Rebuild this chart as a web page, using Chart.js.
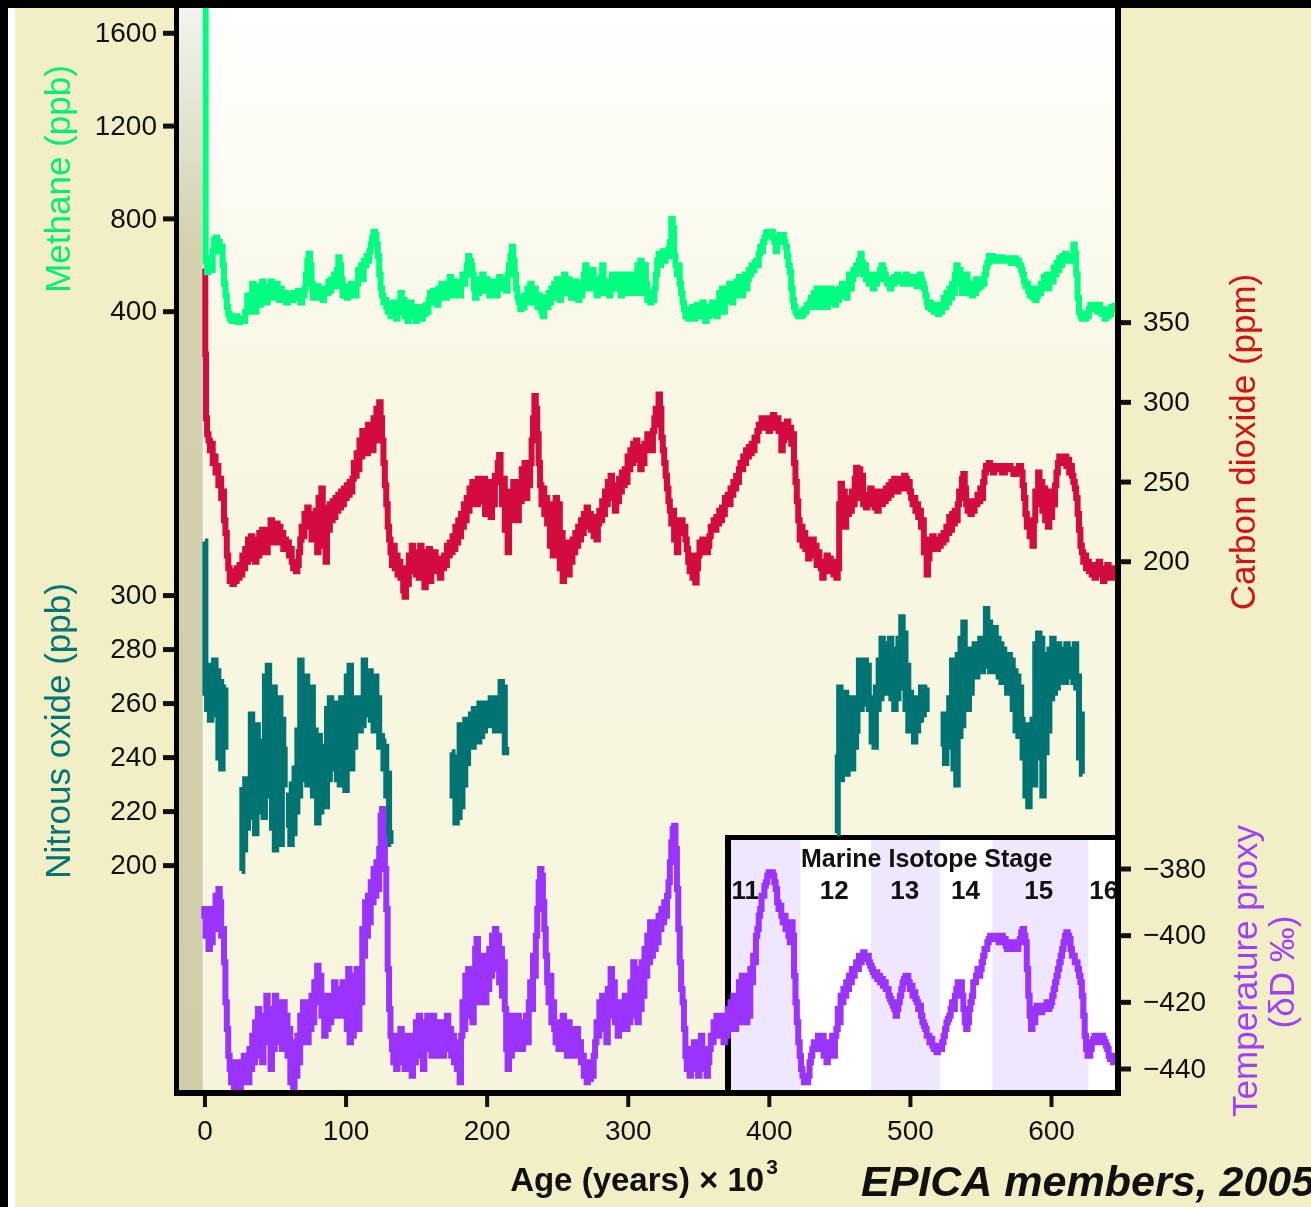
<!DOCTYPE html>
<html lang="en">
<head>
  <meta charset="UTF-8">
  <title>EPICA Dome C greenhouse gases and temperature</title>
  <script src="https://cdn.jsdelivr.net/npm/chart.js"></script>
  <style>
    html, body { margin: 0; padding: 0; background: #f2efc6; }
    #wrap { width: 1311px; height: 1207px; position: relative; }
  </style>
</head>
<body>
  <div id="wrap"><canvas id="epicaChart"></canvas></div>
  <script>
    // age in kyr before present
    const ch4Data = [
      [0,1780],[1,620],[2,570],[3,600],[4,630],[5,580],[6,660],[7,710],[8,720],[9,690],[10,700],[11,660],[12,680],[13,600],[14,520],[15,470],[16,420],[17,390],[18,370],[20,360],[22,380],[24,355],[26,370],[28,360],[29,400],
      [31,470],[32,400],[33,440],[34,520],[35,450],[36,400],[37,470],[38,510],[39,430],[40,470],[41,530],[42,460],[43,500],[44,440],[45,510],[46,480],[47,530],[48,460],[49,500],[50,470],[51,520],[52,490],[53,450],[54,500],[55,470],[57,480],[58,440],[60,470],[62,450],[63,480],[65,460],[67,490],[68,440],[70,470],
      [71,500],[72,560],[73,620],[74,650],[75,600],[76,520],[77,460],[78,500],[79,470],[80,510],[81,460],[83,490],[84,450],[85,500],[87,480],[88,530],[89,490],[90,540],[91,520],[92,560],[93,510],[94,580],[95,635],[96,600],[97,540],[98,470],[99,510],[100,480],
      [101,460],[102,500],[103,470],[104,520],[105,490],[106,500],[107,470],[108,520],[109,580],[110,560],[111,600],[112,540],[113,620],[114,600],[115,640],[116,620],[117,660],[118,690],[119,720],[120,745],[121,730],[122,690],[123,640],[124,560],[125,500],[126,470],[127,440],[128,450],[129,420],[130,400],
      [131,430],[132,380],[133,410],[134,440],[135,400],[136,370],[137,400],[138,430],[139,480],[140,420],[141,450],[142,380],[143,400],[144,360],[145,420],[146,440],[147,400],[148,380],[149,420],[150,360],[151,410],[152,380],[153,400],[154,370],[155,420],[156,390],[157,430],[158,400],[159,450],[160,480],
      [161,440],[162,490],[163,450],[164,470],[165,430],[166,500],[167,460],[168,520],[169,480],[170,500],[171,460],[172,520],[173,490],[174,550],[175,470],[176,510],[177,470],[178,530],[179,480],[180,510],[181,470],[182,520],[183,560],[184,520],[185,560],[186,600],[187,640],[188,620],[189,600],[190,560],
      [191,500],[192,460],[193,520],[194,480],[195,540],[196,500],[197,560],[198,520],[199,490],[200,540],[201,500],[202,470],[203,520],[204,490],[205,530],[206,500],[207,470],[208,520],[209,550],[210,510],[211,540],[212,500],[213,530],[214,490],[215,560],[216,600],[217,640],[218,680],[219,620],[220,560],
      [221,500],[222,460],[223,440],[224,410],[225,450],[226,420],[227,470],[228,440],[229,500],[230,460],[231,520],[232,480],[233,440],[234,500],[235,450],[236,420],[237,470],[238,440],[239,400],[240,380],[241,420],[242,460],[243,420],[244,480],[245,440],[246,500],[247,460],[248,520],[249,480],[250,540],
      [251,500],[252,450],[253,520],[254,480],[255,560],[256,520],[257,480],[258,540],[259,500],[260,460],[261,510],[262,470],[263,530],[264,490],[265,450],[266,500],[267,470],[268,520],[269,560],[270,600],[271,540],[272,500],[273,560],[274,520],[275,580],[276,540],[277,500],[278,470],[279,520],[280,480],
      [281,550],[282,600],[283,520],[284,480],[285,530],[286,500],[287,470],[288,530],[289,560],[290,510],[291,540],[292,500],[293,560],[294,520],[295,470],[296,540],[297,500],[298,560],[299,520],[300,480],[301,540],[302,500],[303,560],[304,520],[305,480],[306,540],[307,600],[308,560],[309,620],[310,480],
      [311,560],[312,600],[313,520],[314,450],[315,480],[316,440],[317,470],[318,450],[319,500],[320,560],[321,620],[322,650],[323,600],[324,640],[325,660],[326,620],[327,650],[328,640],[329,670],[330,700],[331,800],[332,760],[333,640],[334,600],[335,560],[336,600],[337,520],[338,480],[339,440],[340,410],
      [341,380],[342,400],[343,370],[344,410],[345,380],[346,420],[347,370],[348,400],[349,430],[350,390],[351,420],[352,380],[353,440],[354,400],[355,360],[356,410],[357,380],[358,420],[359,390],[360,440],[361,400],[362,420],[363,380],[364,440],[365,480],[366,420],[367,500],[368,400],[369,460],[370,500],
      [371,450],[372,520],[373,480],[374,440],[375,510],[376,470],[377,530],[378,490],[379,550],[380,510],[381,470],[382,530],[383,560],[384,500],[385,540],[386,580],[387,560],[388,600],[389,580],[390,610],[391,620],[392,600],[393,650],[394,680],[395,660],[396,700],[397,720],[398,740],[399,745],[400,740],
      [401,730],[402,745],[403,720],[404,700],[405,660],[406,720],[407,700],[408,730],[409,710],[410,730],[411,700],[412,680],[413,640],[414,600],[415,570],[416,500],[417,450],[418,420],[419,400],[420,390],[421,380],[422,400],[423,380],[424,390],[425,410],[426,400],[427,430],[428,420],[429,440],[430,460],
      [431,420],[432,480],[433,430],[434,500],[435,450],[436,420],[437,480],[438,440],[439,500],[440,460],[441,420],[442,470],[443,440],[444,500],[445,460],[446,490],[447,430],[448,480],[449,450],[450,500],[451,470],[452,520],[453,480],[454,500],[455,460],[456,520],[457,560],[458,500],[459,540],[460,580],
      [461,560],[462,600],[463,580],[464,620],[465,650],[466,610],[467,560],[468,600],[469,540],[470,560],[471,520],[472,560],[473,540],[474,500],[475,540],[476,520],[477,560],[478,540],[479,580],[480,600],[481,580],[482,560],[483,540],[484,520],[485,530],[486,500],[487,540],[488,520],[489,550],[490,530],
      [491,560],[492,540],[493,550],[494,540],[495,520],[496,540],[497,560],[498,540],[499,520],[500,540],[501,530],[502,550],[503,520],[504,530],[505,510],[506,540],[507,560],[508,540],[509,520],[510,500],[511,470],[512,440],[513,420],[514,440],[515,410],[516,420],[517,400],[518,430],[519,410],[520,390],
      [521,420],[522,400],[523,430],[524,460],[525,420],[526,480],[527,440],[528,500],[529,460],[530,520],[531,480],[532,560],[533,600],[534,540],[535,580],[536,520],[537,480],[538,540],[539,500],[540,560],[541,480],[542,520],[543,500],[544,470],[545,510],[546,480],[547,540],[548,500],[549,530],[550,510],
      [551,540],[552,520],[553,560],[554,590],[555,610],[556,640],[557,620],[558,640],[559,620],[560,630],[562,620],[564,635],[566,620],[568,630],[570,625],[572,610],[574,630],[576,620],[578,600],[579,580],[580,560],
      [581,530],[582,510],[583,520],[584,490],[585,470],[586,500],[587,460],[588,480],[589,450],[590,470],[591,500],[592,480],[593,520],[594,500],[595,550],[596,520],[597,560],[598,500],[599,540],[600,560],
      [601,530],[602,590],[603,560],[604,610],[605,580],[606,630],[607,600],[608,640],[609,620],[610,650],[611,630],[612,640],[613,620],[614,630],[615,640],[616,690],[617,650],[618,560],[619,460],[620,400],
      [621,380],[622,370],[623,380],[624,370],[625,390],[626,380],[627,410],[628,430],[629,410],[630,430],[631,410],[632,420],[633,400],[634,430],[635,410],[636,390],[637,410],[638,370],[639,400],[640,380],[641,410],[642,390],[643,420],[644,410],[645,425]
    ];

    const co2Data = [
      [0,384],[0.5,330],[1,290],[2,280],[3,276],[4,270],[5,274],[6,262],[7,266],[8,256],[9,260],[10,248],[11,252],[12,240],[13,244],[14,226],[15,218],[16,204],[17,196],[18,188],[19,194],[20,186],
      [21,192],[22,188],[23,196],[24,190],[25,198],[26,192],[27,204],[28,196],[29,208],[30,200],[31,214],[32,202],[33,216],[34,204],[35,212],[36,200],[37,214],[38,204],[39,218],[40,206],
      [41,220],[42,210],[43,216],[44,206],[45,220],[46,212],[47,226],[48,214],[49,222],[50,212],[51,224],[52,216],[53,222],[54,212],[55,218],[56,208],[57,214],[58,210],[59,212],[60,204],
      [61,208],[62,200],[63,196],[64,200],[65,194],[66,198],[67,206],[68,214],[69,222],[70,216],[71,230],[72,222],[73,234],[74,226],[75,230],[76,214],[77,226],[78,218],[79,232],[80,206],
      [81,240],[82,222],[83,246],[84,210],[85,234],[86,200],[87,230],[88,220],[89,236],[90,226],[91,238],[92,228],[93,240],[94,232],[95,242],[96,234],[97,244],[98,236],[99,246],[100,240],
      [101,248],[102,242],[103,250],[104,244],[105,252],[106,262],[107,254],[108,268],[109,258],[110,276],[111,266],[112,282],[113,270],[114,280],[115,268],[116,286],[117,272],[118,284],[119,270],[120,290],
      [121,276],[122,296],[123,284],[124,300],[125,290],[126,276],[127,262],[128,248],[129,236],[130,222],[131,214],[132,206],[133,198],[134,210],[135,196],[136,204],[137,192],[138,200],[139,190],[140,196],
      [141,182],[142,178],[143,192],[144,186],[145,204],[146,194],[147,210],[148,196],[149,206],[150,192],[151,204],[152,190],[153,210],[154,196],[155,206],[156,184],[157,200],[158,196],[159,208],[160,188],
      [161,200],[162,194],[163,206],[164,198],[165,194],[166,200],[167,190],[168,202],[169,196],[170,204],[171,198],[172,210],[173,204],[174,212],[175,206],[176,216],[177,208],[178,222],[179,212],[180,226],
      [181,216],[182,230],[183,222],[184,236],[185,226],[186,240],[187,232],[188,246],[189,236],[190,250],[191,240],[192,248],[193,236],[194,252],[195,242],[196,250],[197,238],[198,252],[199,230],[200,246],
      [201,236],[202,250],[203,228],[204,244],[205,236],[206,254],[207,250],[208,262],[209,267],[210,250],[211,236],[212,252],[213,220],[214,240],[215,206],[216,230],[217,244],[218,226],[219,250],[220,232],
      [221,246],[222,226],[223,250],[224,238],[225,258],[226,244],[227,262],[228,240],[229,256],[230,248],[231,262],[232,276],[233,290],[234,304],[235,296],[236,280],[237,262],[238,248],[239,236],[240,246],
      [241,230],[242,240],[243,224],[244,236],[245,210],[246,232],[247,204],[248,226],[249,240],[250,214],[251,236],[252,196],[253,218],[254,188],[255,206],[256,196],[257,212],[258,192],[259,208],[260,200],
      [261,214],[262,206],[263,218],[264,210],[265,222],[266,214],[267,226],[268,218],[269,230],[270,222],[271,234],[272,224],[273,230],[274,220],[275,228],[276,216],[277,226],[278,214],[279,224],[280,232],
      [281,226],[282,238],[283,230],[284,244],[285,236],[286,250],[287,240],[288,254],[289,244],[290,248],[291,232],[292,246],[293,238],[294,252],[295,244],[296,256],[297,248],[298,258],[299,250],[300,266],
      [301,258],[302,270],[303,262],[304,274],[305,266],[306,276],[307,264],[308,272],[309,258],[310,270],[311,262],[312,274],[313,270],[314,280],[315,272],[316,278],[317,270],[318,282],[319,290],[320,296],
      [321,286],[322,305],[323,296],[324,278],[325,270],[326,262],[327,254],[328,246],[329,238],[330,232],[331,224],[332,232],[333,214],[334,226],[335,206],[336,222],[337,218],[338,226],[339,218],[340,222],
      [341,214],[342,208],[343,200],[344,194],[345,204],[346,190],[347,200],[348,187],[349,196],[350,204],[351,212],[352,206],[353,214],[354,208],[355,212],[356,206],[357,210],[358,216],[359,222],[360,222],
      [361,226],[362,220],[363,228],[364,224],[365,232],[366,226],[367,234],[368,230],[369,240],[370,238],[371,242],[372,236],[373,246],[374,242],[375,250],[376,246],[377,254],[378,250],[379,258],[380,262],
      [381,258],[382,266],[383,262],[384,270],[385,266],[386,272],[387,268],[388,274],[389,270],[390,278],[391,276],[392,282],[393,286],[394,284],[395,290],[396,286],[397,290],[398,284],[399,288],[400,282],
      [401,290],[402,286],[403,292],[404,288],[405,284],[406,290],[407,282],[408,286],[409,270],[410,276],[411,286],[412,282],[413,288],[414,278],[415,284],[416,274],[417,280],[418,262],[419,250],[420,238],
      [421,226],[422,214],[423,222],[424,210],[425,218],[426,208],[427,214],[428,202],[429,210],[430,206],[431,214],[432,204],[433,210],[434,198],[435,206],[436,200],[437,196],[438,190],[439,200],[440,194],
      [441,204],[442,196],[443,202],[444,194],[445,200],[446,192],[447,198],[448,190],[449,196],[450,236],[451,249],[452,226],[453,244],[454,222],[455,238],[456,230],[457,240],[458,232],[459,244],[460,236],
      [461,252],[462,259],[463,244],[464,258],[465,240],[466,254],[467,236],[468,240],[469,234],[470,242],[471,236],[472,246],[473,238],[474,244],[475,234],[476,240],[477,232],[478,238],[479,244],[480,236],
      [481,244],[482,238],[483,246],[484,240],[485,248],[486,242],[487,250],[488,246],[489,252],[490,248],[491,244],[492,250],[493,246],[494,252],[495,248],[496,254],[497,252],[498,246],[499,250],[500,244],
      [501,240],[502,236],[503,240],[504,232],[505,236],[506,228],[507,232],[508,222],[509,226],[510,206],[511,214],[512,192],[513,202],[514,212],[515,208],[516,216],[517,210],[518,214],[519,208],[520,214],
      [521,210],[522,216],[523,212],[524,218],[525,214],[526,222],[527,218],[528,228],[529,220],[530,230],[531,224],[532,232],[533,226],[534,236],[535,244],[536,240],[537,252],[538,255],[539,246],[540,236],
      [541,232],[542,238],[543,230],[544,236],[545,232],[546,238],[547,236],[548,242],[549,238],[550,246],[551,240],[552,250],[553,256],[554,260],[555,258],[556,262],[557,258],[558,260],[559,256],[560,260],
      [562,258],[564,260],[566,256],[568,258],[570,260],[572,258],[574,255],[576,258],[578,260],[579,256],[580,248],
      [581,240],[582,230],[583,222],[584,226],[585,216],[586,220],[587,210],[588,226],[589,244],[590,236],[591,256],[592,240],[593,250],[594,232],[595,246],[596,226],[597,244],[598,222],[599,240],[600,228],
      [601,244],[602,236],[603,248],[604,256],[605,262],[606,266],[607,262],[608,266],[609,264],[610,266],[611,260],[612,264],[613,256],[614,260],[615,254],[616,250],[617,246],[618,240],[619,230],[620,220],
      [621,210],[622,206],[623,200],[624,204],[625,196],[626,200],[627,194],[628,198],[629,192],[630,196],[631,190],[632,198],[633,194],[634,200],[635,192],[636,196],[637,188],[638,194],[639,190],[640,198],
      [641,192],[642,196],[643,190],[644,196],[645,194]
    ];

    const n2oData = [
      [0,320],[0.6,264],[1,272],[2,258],[3,274],[4,254],[5,270],[6,256],[7,276],[8,258],[9,272],[10,240],[11,268],[12,236],[13,262],[14,244],[15,266],[16,null],
      [26,198],[27,228],[28,206],[29,232],[30,214],[31,226],[32,218],[33,256],[34,220],[35,246],[36,212],[37,252],[38,230],[39,246],[40,220],
      [41,240],[42,218],[43,270],[44,226],[45,274],[46,232],[47,262],[48,214],[49,266],[50,206],[51,258],[52,224],[53,262],[54,208],[55,254],[56,230],[57,244],[58,null],
      [59,214],[60,226],[61,208],[62,230],[63,212],[64,236],[65,220],[66,250],[67,226],[68,276],[69,232],[70,262],[71,240],[72,270],[73,230],[74,262],[75,244],[76,266],[77,226],[78,250],[79,236],[80,216],
      [81,248],[82,220],[83,244],[84,230],[85,240],[86,222],[87,258],[88,232],[89,262],[90,236],[91,254],[92,244],[93,260],[94,232],[95,256],[96,230],[97,262],[98,240],[99,256],[100,228],
      [101,270],[102,242],[103,274],[104,236],[105,258],[106,244],[107,262],[108,250],[109,258],[110,250],[111,262],[112,252],[113,276],[114,256],[115,270],[116,262],[117,272],[118,254],[119,266],[120,250],
      [121,270],[122,256],[123,262],[124,244],[125,248],[126,246],[127,236],[128,244],[129,226],[130,234],[131,212],[132,208],[133,null],
      [175,242],[176,226],[177,238],[178,216],[179,240],[180,218],[181,252],[182,222],[183,248],[184,230],[185,254],[186,238],[187,250],[188,244],[189,256],[190,244],
      [191,258],[192,248],[193,254],[194,246],[195,260],[196,248],[197,256],[198,250],[199,260],[200,252],[201,258],[202,252],[203,262],[204,254],[205,260],[206,250],[207,262],[208,254],[209,258],[210,268],
      [211,250],[212,266],[213,242],[214,244],[215,null],
      [448,212],[449,240],[450,266],[451,232],[452,262],[453,240],[454,264],[455,234],[456,258],[457,244],[458,262],[459,236],[460,256],
      [461,244],[462,250],[463,262],[464,276],[465,258],[466,272],[467,260],[468,276],[469,262],[470,274],[471,258],[472,262],[473,246],[474,262],[475,244],[476,266],[477,258],[478,276],[479,262],[480,284],
      [481,266],[482,282],[483,264],[484,280],[485,270],[486,284],[487,262],[488,280],[489,258],[490,276],[491,262],[492,284],[493,272],[494,292],[495,266],[496,286],[497,258],[498,274],[499,250],[500,264],
      [501,254],[502,262],[503,246],[504,258],[505,250],[506,262],[507,254],[508,266],[509,256],[510,264],[511,258],[512,266],[513,null],
      [523,244],[524,256],[525,238],[526,254],[527,244],[528,262],[529,246],[530,276],[531,236],[532,268],[533,230],[534,278],[535,248],[536,284],[537,252],[538,290],[539,262],[540,280],
      [541,258],[542,276],[543,264],[544,280],[545,270],[546,282],[547,270],[548,280],[549,272],[550,284],[551,272],[552,282],[553,276],[554,295],[555,274],[556,290],[557,272],[558,286],[559,274],[560,288],
      [561,272],[562,284],[563,270],[564,282],[565,268],[566,280],[567,270],[568,276],[569,264],[570,278],[571,266],[572,276],[573,258],[574,272],[575,250],[576,270],[577,248],[578,266],[579,254],[580,240],
      [581,250],[582,226],[583,252],[584,222],[585,246],[586,234],[587,254],[588,230],[589,282],[590,252],[591,286],[592,240],[593,284],[594,226],[595,278],[596,242],[597,274],[598,250],[599,280],[600,262],
      [601,284],[602,264],[603,278],[604,266],[605,282],[606,268],[607,280],[608,270],[609,278],[610,268],[611,282],[612,270],[613,278],[614,270],[615,280],[616,268],[617,282],[618,266],[619,270],[620,240],
      [621,256],[622,234]
    ];

    const tempData = [
      [-1,-395],[0,-392],[1,-400],[2,-392],[3,-404],[4,-394],[5,-402],[6,-392],[7,-398],[8,-388],[9,-392],[10,-386],[11,-390],[12,-400],[13,-398],[14,-408],[15,-420],[16,-428],[17,-436],[18,-440],[19,-444],[20,-438],
      [21,-446],[22,-440],[23,-445],[24,-438],[25,-446],[26,-440],[27,-444],[28,-436],[29,-442],[30,-436],[31,-444],[32,-434],[33,-440],[34,-430],[35,-438],[36,-426],[37,-436],[38,-422],[39,-434],[40,-428],
      [41,-438],[42,-424],[43,-432],[44,-418],[45,-430],[46,-426],[47,-440],[48,-422],[49,-434],[50,-418],[51,-428],[52,-420],[53,-432],[54,-424],[55,-434],[56,-420],[57,-430],[58,-424],[59,-436],[60,-428],
      [61,-444],[62,-432],[63,-446],[64,-436],[65,-442],[66,-430],[67,-438],[68,-424],[69,-432],[70,-420],[71,-430],[72,-422],[73,-432],[74,-420],[75,-428],[76,-418],[77,-426],[78,-414],[79,-420],[80,-409],
      [81,-416],[82,-412],[83,-424],[84,-420],[85,-430],[86,-418],[87,-428],[88,-420],[89,-426],[90,-418],[91,-424],[92,-414],[93,-422],[94,-416],[95,-424],[96,-418],[97,-422],[98,-414],[99,-424],[100,-418],
      [101,-428],[102,-410],[103,-432],[104,-412],[105,-430],[106,-416],[107,-424],[108,-410],[109,-428],[110,-412],[111,-420],[112,-398],[113,-406],[114,-390],[115,-400],[116,-388],[117,-396],[118,-384],[119,-390],[120,-380],
      [121,-388],[122,-378],[123,-386],[124,-374],[125,-364],[126,-362],[127,-368],[128,-380],[129,-392],[130,-410],[131,-422],[132,-430],[133,-434],[134,-438],[135,-432],[136,-440],[137,-430],[138,-436],[139,-428],[140,-438],
      [141,-432],[142,-440],[143,-434],[144,-430],[145,-440],[146,-432],[147,-442],[148,-430],[149,-438],[150,-426],[151,-436],[152,-424],[153,-436],[154,-428],[155,-440],[156,-426],[157,-434],[158,-424],[159,-432],[160,-426],
      [161,-436],[162,-424],[163,-432],[164,-428],[165,-436],[166,-426],[167,-434],[168,-428],[169,-436],[170,-426],[171,-432],[172,-424],[173,-434],[174,-428],[175,-436],[176,-430],[177,-438],[178,-432],[179,-440],[180,-436],
      [181,-444],[182,-430],[183,-420],[184,-428],[185,-412],[186,-424],[187,-410],[188,-420],[189,-414],[190,-426],[191,-418],[192,-404],[193,-401],[194,-410],[195,-420],[196,-408],[197,-416],[198,-406],[199,-420],[200,-408],
      [201,-416],[202,-404],[203,-412],[204,-400],[205,-410],[206,-398],[207,-406],[208,-400],[209,-414],[210,-404],[211,-418],[212,-408],[213,-422],[214,-434],[215,-440],[216,-428],[217,-436],[218,-424],[219,-432],[220,-426],
      [221,-434],[222,-424],[223,-432],[224,-426],[225,-434],[226,-428],[227,-430],[228,-424],[229,-432],[230,-420],[231,-414],[232,-422],[233,-406],[234,-412],[235,-400],[236,-392],[237,-384],[238,-380],[239,-382],[240,-390],
      [241,-398],[242,-406],[243,-414],[244,-420],[245,-412],[246,-426],[247,-420],[248,-428],[249,-432],[250,-428],[251,-434],[252,-426],[253,-432],[254,-424],[255,-434],[256,-428],[257,-436],[258,-426],[259,-434],[260,-428],
      [261,-436],[262,-430],[263,-434],[264,-428],[265,-436],[266,-432],[267,-438],[268,-436],[269,-442],[270,-438],[271,-444],[272,-440],[273,-443],[274,-438],[275,-442],[276,-436],[277,-432],[278,-426],[279,-430],[280,-420],
      [281,-428],[282,-418],[283,-426],[284,-422],[285,-432],[286,-416],[287,-424],[288,-410],[289,-420],[290,-414],[291,-426],[292,-420],[293,-430],[294,-422],[295,-428],[296,-420],[297,-426],[298,-418],[299,-428],[300,-420],
      [301,-426],[302,-414],[303,-424],[304,-408],[305,-420],[306,-410],[307,-426],[308,-414],[309,-422],[310,-408],[311,-418],[312,-404],[313,-412],[314,-400],[315,-408],[316,-396],[317,-406],[318,-398],[319,-404],[320,-396],
      [321,-402],[322,-394],[323,-398],[324,-392],[325,-396],[326,-390],[327,-394],[328,-388],[329,-384],[330,-378],[331,-372],[332,-368],[333,-367],[334,-374],[335,-386],[336,-398],[337,-408],[338,-416],[339,-420],[340,-428],
      [341,-436],[342,-440],[343,-434],[344,-442],[345,-436],[346,-438],[347,-432],[348,-440],[349,-434],[350,-442],[351,-436],[352,-430],[353,-434],[354,-440],[355,-436],[356,-442],[357,-438],[358,-434],[359,-430],[360,-432],
      [361,-426],[362,-430],[363,-424],[364,-430],[365,-426],[366,-428],[367,-424],[368,-432],[369,-424],[370,-430],[371,-422],[372,-428],[373,-420],[374,-426],[375,-418],[376,-428],[377,-418],[378,-424],[379,-414],[380,-426],
      [381,-412],[382,-422],[383,-414],[384,-426],[385,-412],[386,-424],[387,-410],[388,-414],[389,-406],[390,-408],[391,-400],[392,-398],[393,-394],[394,-392],[395,-388],[396,-388],[397,-385],[398,-384],[399,-382],[400,-381],
      [401,-382],[402,-381],[403,-382],[404,-384],[405,-386],[406,-390],[407,-392],[408,-391],[409,-394],[410,-396],[411,-394],[412,-398],[413,-396],[414,-400],[415,-402],[416,-396],[417,-400],[418,-412],[419,-420],[420,-426],
      [421,-432],[422,-436],[423,-440],[424,-442],[425,-444],[426,-443],[427,-444],[428,-442],[429,-438],[430,-436],[431,-434],[432,-432],[433,-434],[434,-432],[435,-430],[436,-432],[437,-434],[438,-430],[439,-436],[440,-432],
      [441,-438],[442,-434],[443,-432],[444,-434],[445,-430],[446,-436],[447,-430],[448,-428],[449,-422],[450,-426],[451,-418],[452,-420],[453,-416],[454,-418],[455,-414],[456,-416],[457,-412],[458,-414],[459,-410],[460,-412],
      [461,-410],[462,-408],[463,-410],[464,-406],[465,-408],[466,-406],[467,-405],[468,-406],[469,-407],[470,-406],[471,-408],[472,-409],[473,-410],[474,-411],[475,-412],[476,-411],[477,-413],[478,-412],[479,-414],[480,-413],
      [481,-415],[482,-414],[483,-416],[484,-416],[485,-418],[486,-419],[487,-420],[488,-421],[489,-422],[490,-424],[491,-422],[492,-420],[493,-418],[494,-416],[495,-414],[496,-413],[497,-412],[498,-412],[499,-414],[500,-416],
      [501,-415],[502,-418],[503,-417],[504,-419],[505,-420],[506,-422],[507,-421],[508,-424],[509,-426],[510,-427],[511,-428],[512,-430],[513,-430],[514,-432],[515,-431],[516,-433],[517,-434],[518,-434],[519,-435],[520,-434],
      [521,-433],[522,-434],[523,-432],[524,-430],[525,-428],[526,-426],[527,-425],[528,-424],[529,-422],[530,-420],[531,-422],[532,-418],[533,-416],[534,-414],[535,-416],[536,-414],[537,-418],[538,-422],[539,-426],[540,-428],
      [541,-426],[542,-422],[543,-420],[544,-418],[545,-414],[546,-414],[547,-412],[548,-410],[549,-412],[550,-410],[551,-408],[552,-406],[553,-404],[554,-404],[555,-402],[556,-401],[557,-400],[558,-401],[559,-400],[560,-400],
      [561,-401],[562,-400],[563,-402],[564,-401],[565,-400],[566,-402],[567,-401],[568,-403],[569,-404],[570,-402],[571,-404],[572,-403],[573,-404],[574,-403],[575,-402],[576,-404],[577,-402],[578,-401],[579,-399],[580,-398],
      [581,-400],[582,-402],[583,-410],[584,-418],[585,-424],[586,-428],[587,-424],[588,-426],[589,-422],[590,-421],[591,-422],[592,-421],[593,-423],[594,-422],[595,-421],[596,-422],[597,-420],[598,-422],[599,-421],[600,-420],
      [601,-418],[602,-416],[603,-414],[604,-412],[605,-410],[606,-408],[607,-406],[608,-404],[609,-402],[610,-400],[611,-399],[612,-400],[613,-401],[614,-404],[615,-406],[616,-406],[617,-408],[618,-408],[619,-410],[620,-412],
      [621,-414],[622,-418],[623,-424],[624,-430],[625,-434],[626,-436],[627,-436],[628,-434],[629,-432],[630,-431],[631,-430],[632,-430],[633,-431],[634,-432],[635,-431],[636,-430],[637,-431],[638,-432],[639,-433],[640,-434],
      [641,-436],[642,-437],[643,-436],[644,-438],[645,-437]
    ];

    const xTicks = [0, 100, 200, 300, 400, 500, 600];
    const ch4Ticks = [400, 800, 1200, 1600];
    const n2oTicks = [200, 220, 240, 260, 280, 300];
    const co2Ticks = [200, 250, 300, 350];
    const tempTicks = [-380, -400, -420, -440];

    // Marine Isotope Stages shown in the inset (kyr)
    const misWarm = [[370, 422], [472, 521], [558, 626]];
    const misNames = ['11', '12', '13', '14', '15', '16'];
    const misAges = [383, 446, 496, 539, 591, 637];

    function toXY(list) {
      return list.map(p => ({x: p[0], y: p[1]}));
    }

    const LABEL_FONT = '28px "Liberation Sans", Arial, sans-serif';
    const TITLE_FONT = '35px "Liberation Sans", Arial, sans-serif';

    function vText(c, s, x, y, color, font) {
      c.save();
      c.translate(x, y);
      c.rotate(-Math.PI / 2);
      c.textAlign = 'center';
      c.textBaseline = 'middle';
      c.fillStyle = color;
      c.font = font;
      c.fillText(s, 0, 0);
      c.restore();
    }

    const framePlugin = {
      id: 'frame',
      beforeDraw(chart) {
        const c = chart.ctx, a = chart.chartArea, xs = chart.scales.x, yT = chart.scales.yTemp;
        c.save();
        c.fillStyle = '#f2efc6';
        c.fillRect(0, 0, chart.width, chart.height);
        c.fillStyle = '#000';
        c.fillRect(0, 0, chart.width, 8);
        c.fillRect(0, 0, 8, chart.height);
        c.fillStyle = '#fff';
        c.fillRect(8, 8, 7, chart.height - 8);

        // plot background, white at the top fading to cream
        let g = c.createLinearGradient(0, a.top, 0, a.bottom);
        g.addColorStop(0, '#ffffff');
        g.addColorStop(0.35, '#f8f7e3');
        g.addColorStop(1, '#f6f5db');
        c.fillStyle = g;
        c.fillRect(a.left, a.top, a.right - a.left, a.bottom - a.top);

        // grey strip left of present day
        const sx = xs.getPixelForValue(-1.6);
        g = c.createLinearGradient(0, a.top, 0, a.bottom);
        g.addColorStop(0, '#f3f3ef');
        g.addColorStop(0.22, '#d3d1ae');
        g.addColorStop(1, '#d0cea9');
        c.fillStyle = g;
        c.fillRect(a.left, a.top, sx - a.left, a.bottom - a.top);

        // inset with Marine Isotope Stage bands
        const il = xs.getPixelForValue(misWarm[0][0]);
        const it = yT.getPixelForValue(-370.4);
        c.fillStyle = '#ffffff';
        c.fillRect(il, it, a.right - il, a.bottom - it);
        c.fillStyle = '#efe7fd';
        misWarm.forEach(b => {
          const l = xs.getPixelForValue(b[0]), r = xs.getPixelForValue(b[1]);
          c.fillRect(l, it, r - l, a.bottom - it);
        });
        c.fillStyle = '#000';
        c.fillRect(il - 2, it - 2, a.right - il + 2, 5);
        c.fillRect(il - 2, it - 2, 6, a.bottom - it + 2);
        c.restore();
      },
      afterDatasetsDraw(chart) {
        const c = chart.ctx, a = chart.chartArea, s = chart.scales;
        c.save();
        c.fillStyle = '#000';
        // axis lines
        c.fillRect(a.left - 5, a.top, 5, a.bottom + 6 - a.top);
        c.fillRect(a.right, a.top, 6, a.bottom + 6 - a.top);
        c.fillRect(a.left - 5, a.bottom, a.right + 6 - (a.left - 5), 6);

        c.font = LABEL_FONT;
        c.fillStyle = '#111';
        c.textBaseline = 'middle';

        // left ticks: methane and nitrous oxide
        c.textAlign = 'right';
        [[s.yCH4, ch4Ticks], [s.yN2O, n2oTicks]].forEach(pair => {
          pair[1].forEach(v => {
            const y = pair[0].getPixelForValue(v);
            c.fillRect(a.left - 16, y - 2.5, 11, 5);
            c.fillText(String(v), 157, y + 1);
          });
        });

        // right ticks: carbon dioxide and temperature
        c.textAlign = 'left';
        [[s.yCO2, co2Ticks], [s.yTemp, tempTicks]].forEach(pair => {
          pair[1].forEach(v => {
            const y = pair[0].getPixelForValue(v);
            c.fillRect(a.right + 6, y - 2.5, 10, 5);
            c.fillText(v < 0 ? '\u2212' + Math.abs(v) : String(v), 1143, y + 1);
          });
        });

        // x ticks
        c.textAlign = 'center';
        xTicks.forEach(v => {
          const x = s.x.getPixelForValue(v);
          c.fillRect(x - 2, a.bottom + 6, 4, 11);
          c.fillText(String(v), x, a.bottom + 42);
        });

        // x title with superscript
        c.textBaseline = 'alphabetic';
        c.textAlign = 'left';
        c.font = 'bold 33px "Liberation Sans", Arial, sans-serif';
        const main = 'Age (years) \u00d7 10';
        const mw = c.measureText(main).width;
        c.font = 'bold 21px "Liberation Sans", Arial, sans-serif';
        const sw = c.measureText('3').width;
        const x0 = 644 - (mw + sw + 2) / 2;
        c.font = 'bold 33px "Liberation Sans", Arial, sans-serif';
        c.fillText(main, x0, 1191);
        c.font = 'bold 21px "Liberation Sans", Arial, sans-serif';
        c.fillText('3', x0 + mw + 2, 1174);

        c.font = 'italic bold 43px "Liberation Sans", Arial, sans-serif';
        c.fillText('EPICA members, 2005', 861, 1196);

        // axis titles
        vText(c, 'Methane (ppb)', 60, 179, '#00ee78', TITLE_FONT);
        vText(c, 'Nitrous oxide (ppb)', 60, 731, '#007575', TITLE_FONT);
        vText(c, 'Carbon dioxide (ppm)', 1245, 442, '#d01414', TITLE_FONT);
        vText(c, 'Temperature proxy', 1247, 971, '#a040ff', TITLE_FONT);
        vText(c, '(\u03b4D \u2030)', 1284, 972, '#a040ff', TITLE_FONT);

        // inset labels
        const it = s.yTemp.getPixelForValue(-370.4);
        c.fillStyle = '#111';
        c.textAlign = 'center';
        c.textBaseline = 'middle';
        c.font = 'bold 25px "Liberation Sans", Arial, sans-serif';
        c.fillText('Marine Isotope Stage', s.x.getPixelForValue(511.5), it + 23);
        c.save();
        c.beginPath();
        c.rect(a.left, a.top, a.right - a.left, a.bottom - a.top);
        c.clip();
        c.font = 'bold 26px "Liberation Sans", Arial, sans-serif';
        misNames.forEach((n, i) => {
          c.fillText(n, s.x.getPixelForValue(misAges[i]), it + 55);
        });
        c.restore();
        c.restore();
      }
    };

    function lineSet(label, data, color, axis) {
      return {
        label: label,
        data: toXY(data),
        borderColor: color,
        backgroundColor: color,
        borderWidth: 6,
        borderJoinStyle: 'miter',
        borderCapStyle: 'butt',
        stepped: 'middle',
        pointRadius: 0,
        fill: false,
        spanGaps: false,
        yAxisID: axis
      };
    }

    const ctx = document.getElementById('epicaChart').getContext('2d');
    const epicaChart = new Chart(ctx, {
      type: 'line',
      data: {
        datasets: [
          lineSet('Methane', ch4Data, '#00ff80', 'yCH4'),
          lineSet('Carbon dioxide', co2Data, '#d40b3f', 'yCO2'),
          lineSet('Nitrous oxide', n2oData, '#007373', 'yN2O'),
          lineSet('Temperature proxy', tempData, '#9b33ff', 'yTemp')
        ]
      },
      options: {
        responsive: true,
        maintainAspectRatio: false,
        animation: false,
        devicePixelRatio: 1,
        layout: { padding: { left: 179, right: 196, top: 8, bottom: 117 } },
        plugins: { legend: { display: false }, tooltip: { enabled: false } },
        scales: {
          x: { type: 'linear', min: -18.4, max: 645, display: false },
          yCH4: { type: 'linear', min: -2955, max: 1709, display: false },
          yCO2: { type: 'linear', min: -131.4, max: 547.4, display: false },
          yN2O: { type: 'linear', min: 116.9, max: 517.6, display: false },
          yTemp: { type: 'linear', min: -446.3, max: -121.7, display: false }
        }
      },
      plugins: [framePlugin]
    });
  </script>
</body>
</html>
